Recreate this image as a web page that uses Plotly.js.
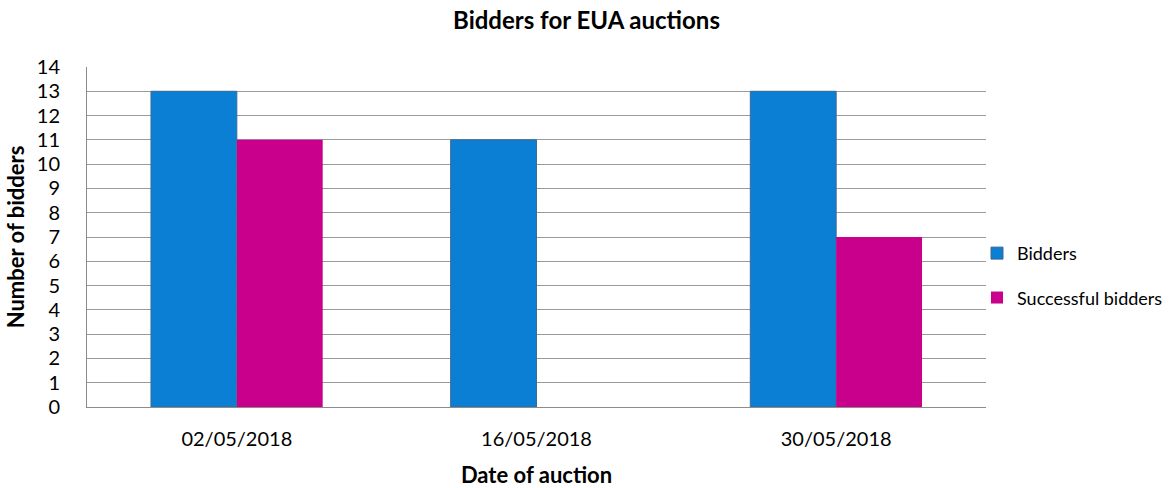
<!DOCTYPE html>
<html><head><meta charset="utf-8">
<script src="https://cdn.plot.ly/plotly-3.0.1.min.js"></script>
<style>html,body{margin:0;padding:0;background:#fff}#chart{width:1173px;height:488px}</style>
</head><body><div id="chart"></div>
<script>
const categories = ["02/05/2018", "16/05/2018", "30/05/2018"];
const bidders = [13, 11, 13];
const successfulBidders = [11, 0, 7];
const seriesNames = ["Bidders", "Successful bidders"];

const font = "Lato, 'Open Sans', sans-serif";
const data = [
  {type: "bar", x: categories, y: bidders, name: seriesNames[0], legendgroup: "a",
   marker: {color: "#0a7fd4", line: {color: "#3d6a98", width: 1}}},
  {type: "bar", x: categories, y: successfulBidders, name: seriesNames[1], legendgroup: "b",
   marker: {color: "#c8008c", line: {width: 0}}}
];
const layout = {
  width: 1173, height: 488,
  margin: {l: 87, r: 187, t: 67, b: 81, autoexpand: false},
  paper_bgcolor: "#fff", plot_bgcolor: "#fff",
  font: {family: font, size: 20, color: "#000"},
  title: {text: "<b>Bidders for EUA auctions</b>", x: 0.5, xanchor: "center", y: 0.958, yanchor: "middle",
          font: {family: font, size: 24, color: "#000"}},
  barmode: "group", bargap: 0.427, bargroupgap: 0,
  xaxis: {type: "category", showgrid: false, showline: true, linecolor: "#8c8c8c", linewidth: 1,
          ticks: "", tickfont: {size: 20}, ticklabelstandoff: 14,
          title: {text: "<b>Date of auction</b>", font: {size: 22}, standoff: 20}},
  yaxis: {range: [0, 14], dtick: 1, showgrid: true, gridcolor: "#9a9a9a", gridwidth: 1,
          showline: true, linecolor: "#8c8c8c", linewidth: 1, zeroline: false, ticks: "",
          tickfont: {size: 20}, ticklabelstandoff: 22,
          title: {text: "<b>Number of bidders</b>", font: {size: 22}, standoff: 6}},
  legend: {x: 0.99, xanchor: "left", y: 0.387, yanchor: "middle", traceorder: "grouped",
           tracegroupgap: 18, font: {size: 18}, itemwidth: 30, bgcolor: "rgba(0,0,0,0)"},
  showlegend: true
};
Plotly.newPlot("chart", data, layout, {displayModeBar: false, staticPlot: true});
</script></body></html>
